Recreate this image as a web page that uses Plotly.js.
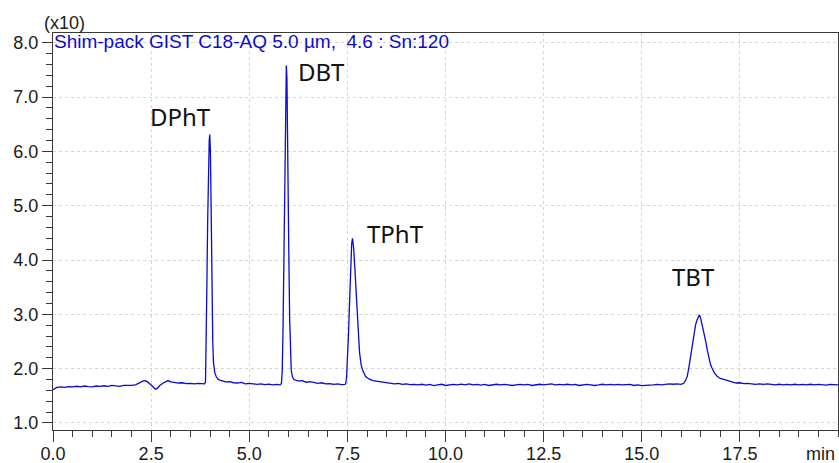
<!DOCTYPE html>
<html>
<head>
<meta charset="utf-8">
<script src="https://cdn.plot.ly/plotly-3.0.1.min.js"></script>
<style>
  html, body { margin: 0; padding: 0; background: #ffffff; }
  #chart { width: 839px; height: 463px; }
</style>
</head>
<body>
<div id="chart"></div>
<script>
// ---- Data: retention time (min) and intensity (x10) ----
var segStart = [
  [0.00,1.61],[0.05,1.64],[0.10,1.655],[0.15,1.66],[0.20,1.665],[0.30,1.655],[0.40,1.67],[0.50,1.665],
  [0.60,1.675],[0.70,1.665],[0.80,1.68],[0.90,1.67],[1.00,1.665],[1.10,1.68],[1.20,1.675],[1.30,1.685],
  [1.40,1.675],[1.50,1.69],[1.60,1.68],[1.70,1.675],[1.80,1.69],[1.90,1.685],[2.00,1.69],[2.10,1.70],
  [2.20,1.74],[2.30,1.775],[2.35,1.78],[2.40,1.76],[2.50,1.70],[2.56,1.65],[2.61,1.62],[2.66,1.64],
  [2.72,1.69],[2.80,1.73],[2.87,1.75],[2.93,1.78],[3.00,1.755],[3.10,1.74],[3.20,1.735],[3.30,1.74],
  [3.40,1.725],[3.50,1.73],[3.60,1.72],[3.70,1.73],[3.80,1.72],[3.86,1.72]
];
var peakDPhT = [
  [3.885,1.75],[3.90,2.30],[3.92,3.50],[3.94,4.70],[3.96,5.60],[3.98,6.20],[3.995,6.31],
  [4.01,6.00],[4.03,4.90],[4.05,3.50],[4.07,2.50],[4.09,2.10],[4.12,1.93],[4.16,1.85],[4.20,1.81],
  [4.25,1.79],[4.30,1.78],[4.40,1.755],[4.50,1.76],[4.60,1.74],[4.70,1.735],[4.80,1.745],[4.90,1.72],
  [5.00,1.73],[5.10,1.72],[5.20,1.71],[5.30,1.72],[5.40,1.705],[5.50,1.715],[5.60,1.70],[5.70,1.71],[5.79,1.70]
];
var peakDBT = [
  [5.82,1.73],[5.84,1.95],[5.86,2.70],[5.88,3.90],[5.90,5.40],[5.92,6.80],[5.935,7.45],[5.945,7.58],
  [5.96,7.35],[5.975,6.60],[5.99,5.40],[6.01,4.00],[6.03,2.90],[6.05,2.25],[6.07,1.97],[6.10,1.85],
  [6.14,1.80],[6.20,1.785],[6.28,1.77],[6.35,1.78],[6.45,1.75],[6.55,1.76],[6.65,1.74],[6.75,1.73],
  [6.85,1.74],[6.95,1.72],[7.05,1.725],[7.15,1.71],[7.25,1.72],[7.35,1.705],[7.44,1.71]
];
var peakTPhT = [
  [7.46,1.73],[7.48,1.85],[7.51,2.20],[7.53,2.65],[7.55,3.10],[7.57,3.60],[7.59,4.00],[7.61,4.30],
  [7.63,4.40],[7.645,4.30],[7.66,4.22],[7.69,3.85],[7.72,3.42],[7.75,2.95],[7.78,2.57],[7.81,2.30],
  [7.85,2.07],[7.90,1.95],[7.97,1.85],[8.05,1.81],[8.15,1.78],[8.25,1.77],[8.35,1.75],[8.50,1.745],
  [8.60,1.73],[8.70,1.72],[8.80,1.73],[8.90,1.71],[9.00,1.72],[9.10,1.705],[9.20,1.71]
];
var segMiddle = [
  [9.30,1.70],[9.40,1.712],[9.50,1.698],[9.60,1.71],[9.70,1.688],[9.80,1.70],[9.90,1.712],[10.00,1.69],
  [10.10,1.70],[10.20,1.71],[10.30,1.70],[10.40,1.715],[10.50,1.70],[10.60,1.72],[10.70,1.70],[10.80,1.71],
  [10.90,1.698],[11.00,1.71],[11.10,1.69],[11.20,1.70],[11.30,1.712],[11.40,1.70],[11.50,1.71],[11.60,1.70],
  [11.70,1.69],[11.80,1.70],[11.90,1.71],[12.00,1.70],[12.10,1.71],[12.20,1.69],[12.30,1.70],[12.40,1.712],
  [12.50,1.70],[12.60,1.71],[12.70,1.72],[12.80,1.70],[12.90,1.71],[13.00,1.70],[13.10,1.712],[13.20,1.70],
  [13.30,1.71],[13.40,1.69],[13.50,1.70],[13.60,1.71],[13.70,1.70],[13.80,1.69],[13.90,1.70],[14.00,1.712],
  [14.10,1.70],[14.20,1.71],[14.30,1.70],[14.40,1.71],[14.50,1.70],[14.60,1.70],[14.70,1.71],[14.80,1.69],
  [14.90,1.70],[15.00,1.688],[15.10,1.69],[15.20,1.70],[15.30,1.70],[15.40,1.71],[15.50,1.70],[15.60,1.712],
  [15.70,1.72],[15.80,1.712],[15.90,1.72],[16.00,1.71]
];
var peakTBT = [
  [16.07,1.73],[16.12,1.79],[16.16,1.86],[16.20,2.02],[16.24,2.22],[16.28,2.44],[16.33,2.66],[16.37,2.80],
  [16.41,2.90],[16.45,2.97],[16.47,2.99],[16.50,2.93],[16.54,2.81],[16.58,2.66],[16.63,2.50],[16.67,2.34],
  [16.71,2.19],[16.75,2.08],[16.79,2.01],[16.85,1.92],[16.92,1.86],[17.00,1.82],[17.09,1.80],[17.20,1.77],
  [17.30,1.755],[17.40,1.735]
];
var segEnd = [
  [17.50,1.74],[17.60,1.725],[17.70,1.73],[17.80,1.72],[17.90,1.71],[18.00,1.72],[18.10,1.71],[18.20,1.72],
  [18.30,1.71],[18.40,1.70],[18.50,1.712],[18.60,1.70],[18.70,1.71],[18.80,1.70],[18.90,1.712],[19.00,1.70],
  [19.10,1.71],[19.20,1.70],[19.30,1.712],[19.40,1.70],[19.50,1.71],[19.60,1.70],[19.70,1.698],[19.80,1.71],
  [19.90,1.70],[20.00,1.70]
];

var peakNames = ["DPhT", "DBT", "TPhT", "TBT"];
var peakLabelTime = [3.25, 6.84, 8.73, 16.33];
var peakLabelLevel = [6.64, 7.47, 4.48, 3.69];

var xTickVals = [0, 2.5, 5, 7.5, 10, 12.5, 15, 17.5];
var xTickText = ["0.0", "2.5", "5.0", "7.5", "10.0", "12.5", "15.0", "17.5"];
var yTickVals = [1, 2, 3, 4, 5, 6, 7, 8];
var yTickText = ["1.0", "2.0", "3.0", "4.0", "5.0", "6.0", "7.0", "8.0"];

var traceTitle = "Shim-pack GIST C18-AQ 5.0 µm,  4.6 : Sn:120";
var yScaleLabel = "(x10)";
var xUnitLabel = "min";

// ---- Build trace ----
var allPts = [].concat(segStart, peakDPhT, peakDBT, peakTPhT, segMiddle, peakTBT, segEnd);
var tx = allPts.map(function (p) { return p[0]; });
var ty = allPts.map(function (p) { return p[1]; });

var blue = "#0a0ad2";
var axisCol = "#3a3a3a";
var gridCol = "#d6d6d6";
var tickFont = { family: "Liberation Sans, Arial, sans-serif", size: 18, color: "#1a1a1a" };

var annotations = peakNames.map(function (n, i) {
  return {
    x: peakLabelTime[i], y: peakLabelLevel[i], xref: "x", yref: "y",
    text: n, showarrow: false, xanchor: "center", yanchor: "middle",
    font: { family: "Noto Sans, Open Sans, sans-serif", size: 24, color: "#111111" }
  };
});
annotations.push({
  x: 0, y: 8.0, xref: "paper", yref: "y", xanchor: "left", yanchor: "middle", xshift: -1, yshift: 1,
  text: traceTitle, showarrow: false,
  font: { family: "Liberation Sans, Arial, sans-serif", size: 19, color: blue }
});
annotations.push({
  x: 0, y: 1, xref: "paper", yref: "paper", showarrow: false, text: yScaleLabel,
  xanchor: "center", yanchor: "middle", xshift: 11, yshift: 10,
  font: tickFont
});
annotations.push({
  x: 1, y: 0, xref: "paper", yref: "paper", yanchor: "top", xanchor: "right", xshift: -1, yshift: -12,
  text: xUnitLabel, showarrow: false, font: tickFont
});

var layout = {
  width: 839, height: 463,
  margin: { l: 53, r: 1, t: 33, b: 33, pad: 0 },
  paper_bgcolor: "#ffffff", plot_bgcolor: "#ffffff",
  showlegend: false,
  xaxis: {
    range: [0, 20], tickmode: "array", tickvals: xTickVals, ticktext: xTickText,
    ticks: "outside", ticklen: 11, tickwidth: 1, tickcolor: axisCol,
    showline: true, linecolor: axisCol, linewidth: 1, mirror: true,
    showgrid: true, gridcolor: gridCol, griddash: "dot", gridwidth: 1, zeroline: false,
    tickfont: tickFont, ticklabelstandoff: -4,
    minor: { tickmode: "linear", tick0: 0, dtick: 0.5, ticks: "outside", ticklen: 6, tickcolor: axisCol, showgrid: false }
  },
  yaxis: {
    range: [0.87, 8.18], tickmode: "array", tickvals: yTickVals, ticktext: yTickText,
    ticks: "outside", ticklen: 10, tickwidth: 1, tickcolor: axisCol,
    showline: true, linecolor: axisCol, linewidth: 1, mirror: true,
    showgrid: true, gridcolor: gridCol, griddash: "dot", gridwidth: 1, zeroline: false,
    tickfont: tickFont,
    minor: { tickmode: "linear", tick0: 0, dtick: 0.2, ticks: "outside", ticklen: 6, tickcolor: axisCol, showgrid: false }
  },
  annotations: annotations
};

Plotly.newPlot("chart", [{
  x: tx, y: ty, type: "scatter", mode: "lines",
  line: { color: blue, width: 1.3 }, hoverinfo: "skip"
}], layout, { displayModeBar: false, staticPlot: true });
</script>
</body>
</html>
